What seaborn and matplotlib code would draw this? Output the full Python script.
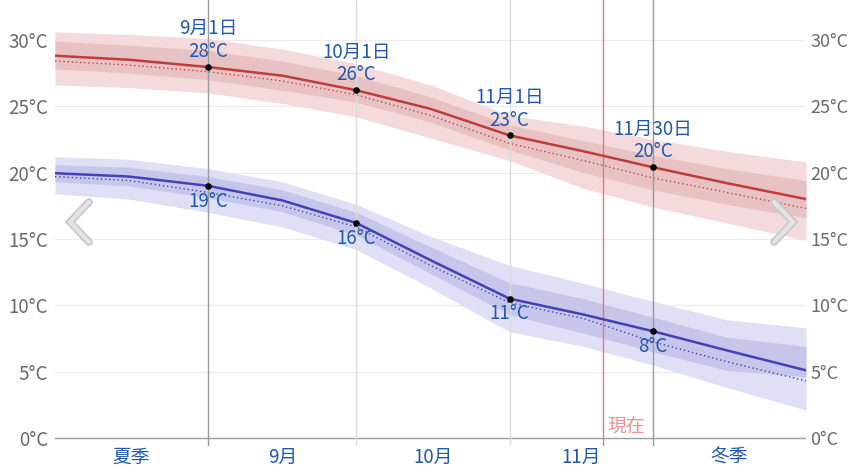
import pandas as pd
import numpy as np
import matplotlib
matplotlib.use("Agg")
import matplotlib.pyplot as plt
from matplotlib.lines import Line2D
import seaborn as sns

# sample dates (year is arbitrary)
dates = ["2023-08-01", "2023-08-16", "2023-09-01", "2023-09-16", "2023-10-01", "2023-10-16",
         "2023-11-01", "2023-11-16", "2023-11-30", "2023-12-15", "2023-12-31"]

high_mean = [28.8, 28.5, 27.95, 27.3, 26.2, 24.8, 22.8, 21.6, 20.4, 19.2, 18.0]
high_feel = [28.4, 28.1, 27.6, 26.9, 25.85, 24.3, 22.2, 20.9, 19.6, 18.5, 17.3]
high_p90 = [30.6, 30.4, 30.1, 29.3, 28.2, 26.6, 24.3, 23.5, 22.5, 21.6, 20.8]
high_p75 = [29.9, 29.6, 29.2, 28.4, 27.3, 25.7, 23.6, 22.4, 21.3, 20.3, 19.4]
high_p25 = [27.8, 27.5, 27.0, 26.2, 25.3, 23.8, 21.7, 20.0, 18.7, 17.6, 16.6]
high_p10 = [26.6, 26.4, 26.0, 25.2, 24.2, 22.6, 20.9, 18.8, 17.4, 16.2, 14.9]

low_mean = [19.95, 19.7, 19.0, 17.9, 16.2, 13.4, 10.5, 9.3, 8.05, 6.6, 5.1]
low_feel = [19.7, 19.4, 18.5, 17.5, 15.9, 13.0, 10.2, 9.0, 7.25, 5.75, 4.3]
low_p90 = [21.2, 21.0, 20.3, 19.3, 17.6, 15.2, 13.0, 11.65, 10.3, 8.9, 8.3]
low_p75 = [20.6, 20.4, 19.7, 18.7, 17.0, 14.4, 11.7, 10.5, 9.1, 7.6, 6.9]
low_p25 = [19.3, 19.0, 18.1, 17.05, 15.3, 12.4, 9.3, 7.9, 6.5, 5.1, 4.6]
low_p10 = [18.4, 18.0, 17.0, 15.9, 14.2, 11.3, 8.0, 6.9, 5.5, 3.8, 2.1]

# highlighted days
mark_dates = ["2023-09-01", "2023-10-01", "2023-11-01", "2023-11-30"]
mark_names = ["9月1日", "10月1日", "11月1日", "11月30日"]
mark_high = [28, 26, 23, 20]
mark_low = [19, 16, 11, 8]
season_dates = ["2023-09-01", "2023-11-30"]
month_dates = ["2023-10-01", "2023-11-01"]
now_date = "2023-11-20"

period_labels = ["夏季", "9月", "10月", "11月", "冬季"]
period_centers = ["2023-08-16 12:00", "2023-09-16 00:00", "2023-10-16 12:00",
                  "2023-11-15 12:00", "2023-12-15 12:00"]

yticks = [0, 5, 10, 15, 20, 25, 30]

df = pd.DataFrame({
    "date": pd.to_datetime(dates),
    "high": high_mean, "high_feel": high_feel,
    "low": low_mean, "low_feel": low_feel,
})

sns.set_theme(style="white")
plt.rcParams["font.family"] = ["Noto Sans CJK JP", "DejaVu Sans"]

BLUE_TXT = "#2259ad"
fig = plt.figure(figsize=(8.49, 4.71), dpi=100)
ax = fig.add_axes([55 / 849, 25 / 471, 751 / 849, 446 / 471])

# bands
ax.fill_between(df["date"], high_p10, high_p90, color="#f4dada", lw=0, zorder=1)
ax.fill_between(df["date"], high_p25, high_p75, color="#e8c2c2", lw=0, zorder=1.1)
ax.fill_between(df["date"], low_p10, low_p90, color="#dfdff5", lw=0, zorder=1)
ax.fill_between(df["date"], low_p25, low_p75, color="#c6c6ea", lw=0, zorder=1.1)

# perceived (dotted) and average lines
sns.lineplot(data=df, x="date", y="high_feel", ax=ax, color="#c04545", lw=1.0, ls=(0, (1, 2)), zorder=2)
sns.lineplot(data=df, x="date", y="low_feel", ax=ax, color="#4545a6", lw=1.0, ls=(0, (1, 2)), zorder=2)
sns.lineplot(data=df, x="date", y="high", ax=ax, color="#bf3d38", lw=1.8, zorder=3)
sns.lineplot(data=df, x="date", y="low", ax=ax, color="#4242b6", lw=1.8, zorder=3)

# vertical reference lines
for d in season_dates:
    ax.axvline(pd.Timestamp(d), color="#9a9a9a", lw=1, zorder=2.5)
for d in month_dates:
    ax.axvline(pd.Timestamp(d), color="#dcdcdc", lw=1, zorder=2.5)
ax.axvline(pd.Timestamp(now_date), color="#ec7676", lw=1, zorder=2.6)
ax.annotate("現在", (pd.Timestamp(now_date), 0), xytext=(3, 0.5), textcoords="offset points",
            color="#ee9090", fontsize=13.5, ha="left", va="bottom")

# highlighted points and labels
idx = [dates.index(d) for d in mark_dates]
for i, name, hv, lv in zip(idx, mark_names, mark_high, mark_low):
    d = df["date"][i]
    ax.scatter([d, d], [high_mean[i], low_mean[i]], s=14, color="black", zorder=4)
    ax.annotate(f"{hv}°C", (d, high_mean[i]), xytext=(0, 11), textcoords="offset points",
                ha="center", va="center", color=BLUE_TXT, fontsize=13.5, zorder=5)
    ax.annotate(name, (d, high_mean[i]), xytext=(0, 27.5), textcoords="offset points",
                ha="center", va="center", color=BLUE_TXT, fontsize=13.5, zorder=5)
    ax.annotate(f"{lv}°C", (d, low_mean[i]), xytext=(0, -11), textcoords="offset points",
                ha="center", va="center", color=BLUE_TXT, fontsize=13.5, zorder=5)

# axes styling
ax.set_xlim(pd.Timestamp(dates[0]), pd.Timestamp(dates[-1]))
ax.set_ylim(-0.6, 33.0)
ax.set_yticks(yticks)
ax.set_yticklabels([f"{t}°C" for t in yticks])
ax.yaxis.grid(True, color="#ececec", lw=1)
ax.axhline(0, color="#a0a0a0", lw=1, zorder=2.4)
ax.set_xticks(pd.to_datetime(period_centers))
ax.set_xticklabels(period_labels)
ax.tick_params(axis="x", length=0, pad=0.5, labelsize=13.5, labelcolor=BLUE_TXT)
ax.tick_params(axis="y", length=0, labelsize=13.5, labelcolor="#6a6a6a",
               left=False, right=False, labelleft=True, labelright=False, pad=5)
for s in ax.spines.values():
    s.set_visible(False)
ax.set_xlabel("")
ax.set_ylabel("")

# right-hand temperature labels
ax2 = ax.twinx()
ax2.set_ylim(ax.get_ylim())
ax2.set_yticks(yticks)
ax2.set_yticklabels([f"{t}°C" for t in yticks])
ax2.tick_params(axis="y", length=0, labelsize=13, labelcolor="#6a6a6a", pad=3)
ax2.grid(False)
for s in ax2.spines.values():
    s.set_visible(False)

# navigation chevrons (figure pixels, y from top)
def chevron(xs, ys):
    pts_x = [x / 849 for x in xs]
    pts_y = [1 - y / 471 for y in ys]
    fig.add_artist(Line2D(pts_x, pts_y, transform=fig.transFigure, color="#c8c8c8", lw=5.5,
                          solid_capstyle="round", solid_joinstyle="miter"))
    fig.add_artist(Line2D(pts_x, pts_y, transform=fig.transFigure, color="#e4e4e4", lw=3,
                          solid_capstyle="round", solid_joinstyle="miter"))

chevron([89, 70, 89], [202, 222, 242])
chevron([774, 793, 774], [202, 222, 242])

fig.savefig("out.png", dpi=100)
